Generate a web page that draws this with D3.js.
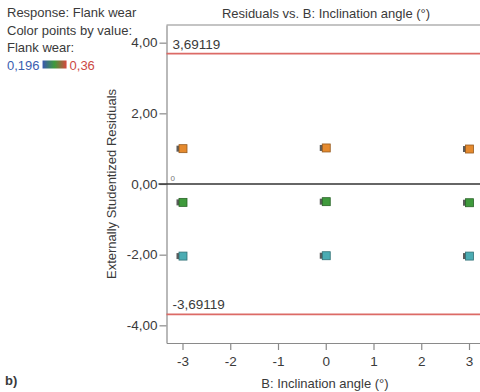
<!DOCTYPE html>
<html><head><meta charset="utf-8">
<script src="https://cdn.jsdelivr.net/npm/d3@7"></script>
<style>
html,body{margin:0;padding:0;background:#fff;}
svg{display:block;fill:#3a3a3a;font-family:"Liberation Sans Narrow","Liberation Sans",Arial,sans-serif;}
</style></head>
<body>
<svg id="c" width="480" height="392"></svg>
<script>
// Data
const angles = [-3, -3, -3, 0, 0, 0, 3, 3, 3];
const residuals = [1.00, -0.52, -2.04, 1.02, -0.50, -2.03, 0.99, -0.53, -2.04];
const flankWear = [0.30, 0.25, 0.21, 0.30, 0.25, 0.21, 0.30, 0.25, 0.21];
const xTicks = [-3, -2, -1, 0, 1, 2, 3];
const yTicks = [-4, -2, 0, 2, 4];
const limits = [3.69119, -3.69119];
const legendRange = [0.196, 0.36];
const legendLines = ["Response: Flank wear", "Color points by value:", "Flank wear:"];

const FONT = '"Liberation Sans Narrow","Liberation Sans",Arial,sans-serif';
const FS = 13;
const svg = d3.select("#c");
const L = 166.5, R = 485, T = 25, B = 343;
const x = d3.scaleLinear().domain([-3.335, 3.335]).range([L, R]);
const y = d3.scaleLinear().domain([-4.5, 4.5]).range([B, T]);
const color = d3.scaleLinear().domain([0.196, 0.25, 0.30, 0.36])
  .range(["#4fb2dc", "#3f9a3c", "#e58a2e", "#d8463e"]);
const fmt = v => d3.format(".2f")(v).replace(".", ",").replace("\u2212", "-");
const fmtX = v => String(v);

// frame
svg.append("line").attr("x1", L).attr("x2", R).attr("y1", T).attr("y2", T)
  .attr("stroke", "#8a8a8a").attr("stroke-width", 1.2);

// axes
const ya = svg.append("g").attr("transform", `translate(${L},0)`)
  .call(d3.axisLeft(y).tickValues(yTicks).tickFormat(fmt).tickSize(7).tickSizeOuter(0));
ya.select(".domain").attr("stroke", "#8a8a8a").attr("stroke-width", 1.2);
ya.selectAll(".tick line").attr("stroke", "#8a8a8a").attr("stroke-width", 1.2);
ya.selectAll(".tick text").attr("font-size", 13.5).attr("x", -9).attr("fill", "#3a3a3a").attr("font-family", FONT);

const xa = svg.append("g").attr("transform", `translate(0,${B})`)
  .call(d3.axisBottom(x).tickValues(xTicks).tickFormat(fmtX).tickSize(7).tickSizeOuter(0));
xa.select(".domain").attr("stroke", "#8a8a8a").attr("stroke-width", 1.2);
xa.selectAll(".tick line").attr("stroke", "#8a8a8a").attr("stroke-width", 1.2);
xa.selectAll(".tick text").attr("font-size", 13.5).attr("y", 13).attr("fill", "#3a3a3a").attr("font-family", FONT);

// zero line
svg.append("line").attr("x1", L - 8).attr("x2", R).attr("y1", y(0)).attr("y2", y(0))
  .attr("stroke", "#333").attr("stroke-width", 1.5);
svg.append("text").attr("x", L + 4).attr("y", y(0) - 3).attr("font-size", 8).attr("fill", "#777").text("0");

// limit lines
limits.forEach(v => {
  svg.append("line").attr("x1", L).attr("x2", R).attr("y1", y(v)).attr("y2", y(v))
    .attr("stroke", "#dc6a66").attr("stroke-width", 1.6);
  svg.append("text").attr("x", L + 6).attr("y", y(v) - 5).attr("font-size", 13.5)
    .text((v < 0 ? "-" : "") + Math.abs(v).toFixed(5).replace(".", ","));
});

// points
const pts = svg.append("g");
angles.forEach((a, i) => {
  const cx = x(a), cy = y(residuals[i]);
  pts.append("rect").attr("x", cx - 6).attr("y", cy - 3).attr("width", 6).attr("height", 6)
    .attr("fill", "#333").attr("opacity", 0.8);
  pts.append("rect").attr("x", cx - 3.5).attr("y", cy - 4).attr("width", 8).attr("height", 8)
    .attr("fill", color(flankWear[i])).attr("stroke", d3.color(color(flankWear[i])).darker(1.2)).attr("stroke-width", 0.8);
});

// titles
svg.append("text").attr("x", 326).attr("y", 18).attr("text-anchor", "middle").attr("font-size", FS)
  .text("Residuals vs. B: Inclination angle (°)");
svg.append("text").attr("x", 325).attr("y", 388).attr("text-anchor", "middle").attr("font-size", FS)
  .text("B: Inclination angle (°)");
svg.append("text").attr("transform", `translate(116,${y(0)}) rotate(-90)`).attr("text-anchor", "middle")
  .attr("font-size", FS).text("Externally Studentized Residuals");
svg.append("text").attr("x", 5).attr("y", 385).attr("font-size", 13).attr("font-weight", "bold").text("b)");

// legend
legendLines.forEach((t, i) => {
  svg.append("text").attr("x", 7).attr("y", 17 + i * 17.5).attr("font-size", FS).text(t);
});
const ly = 17 + 3 * 17.5;
const t1 = svg.append("text").attr("x", 7).attr("y", ly).attr("font-size", FS).attr("fill", "#3b5db0")
  .text(String(legendRange[0]).replace(".", ","));
const w1 = t1.node().getComputedTextLength();
const grad = svg.append("defs").append("linearGradient").attr("id", "g1");
[[0, "#3a58b0"], [0.5, "#3f9a3c"], [1, "#d8463e"]].forEach(([o, c]) =>
  grad.append("stop").attr("offset", o).attr("stop-color", c));
svg.append("rect").attr("x", 7 + w1 + 3).attr("y", ly - 9).attr("width", 24).attr("height", 8).attr("fill", "url(#g1)");
svg.append("text").attr("x", 7 + w1 + 30).attr("y", ly).attr("font-size", FS).attr("fill", "#cc4a44")
  .text(String(legendRange[1]).replace(".", ","));
</script>
</body></html>
